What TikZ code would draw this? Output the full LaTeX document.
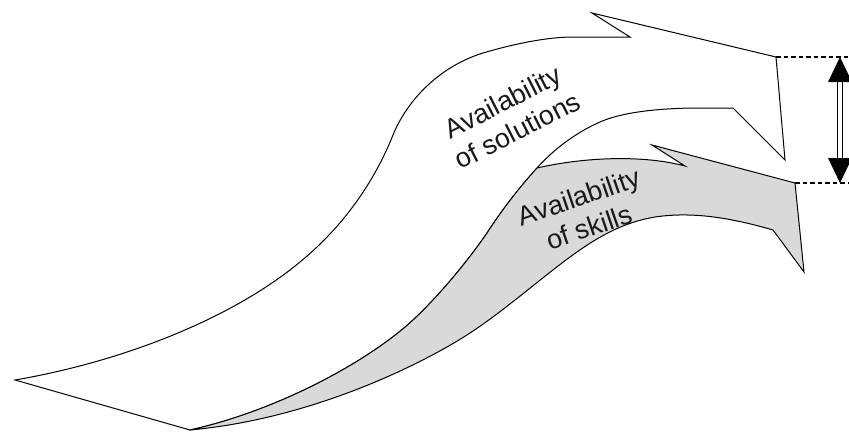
\documentclass[tikz,border=0pt]{standalone}
\usepackage{fontspec}
\setmainfont{Liberation Sans}
\begin{document}
\begin{tikzpicture}[x=1pt,y=-1pt,
  outline/.style={draw=black, line width=1pt, line join=miter},
  guide/.style={draw=black, line width=1.1pt, dash pattern=on 4.5pt off 3pt},
  label/.style={align=center, font=\fontsize{27}{32}\selectfont, text=black!90, inner sep=0pt}]
\useasboundingbox (0,0) rectangle (849,432);
% white arrow: availability of solutions
\path[outline, fill=white]
  (15,380) .. controls (120,362) and (230,320) .. (300,262)
  .. controls (345,225) and (375,180) .. (393,135)
  .. controls (405,105) and (435,68) .. (483,53)
  .. controls (510,45) and (545,37) .. (573,37)
  -- (630,37) -- (592,13) -- (776,57) -- (785,160) -- (733,108) -- (700,108)
  .. controls (655,108) and (620,113) .. (600,122)
  .. controls (575,133) and (553,150) .. (537,168)
  .. controls (518,189) and (502,210) .. (487,233)
  .. controls (470,258) and (440,295) .. (413,320)
  .. controls (370,360) and (280,410) .. (190,430)
  -- cycle;
% grey arrow: availability of skills
\path[outline, fill=black!15]
  (190,430) .. controls (280,410) and (370,360) .. (413,320)
  .. controls (440,295) and (470,258) .. (487,233)
  .. controls (502,210) and (518,189) .. (537,168)
  .. controls (580,158) and (640,154) .. (685,166)
  -- (652,145) -- (795,183) -- (804,272) -- (773,230)
  .. controls (735,219) and (695,211) .. (655,217)
  .. controls (625,222) and (600,235) .. (570,257)
  .. controls (540,279) and (505,310) .. (470,333)
  .. controls (432,358) and (320,418) .. (190,430)
  -- cycle;
% labels
\node[label, rotate=27] (sol) at (510,116) {Availability\\of solutions};
\node[label, rotate=19] (ski) at (584,212) {Availability\\of skills};
% range marker
\coordinate (t1) at (776,57);
\coordinate (t2) at (795,183);
\coordinate (r1) at (849,57);
\coordinate (r2) at (849,183);
\draw[guide] (t1) -- (r1);
\draw[guide] (t2) -- (r2);
\coordinate (atop) at (840,57);
\coordinate (abot) at (840,183);
\coordinate (sl1) at (837.5,80);
\coordinate (sl2) at (837.5,160);
\coordinate (sr1) at (842.5,80);
\coordinate (sr2) at (842.5,160);
\fill[black] (atop) -- (828,82) -- (852,82) -- cycle;
\fill[black] (abot) -- (828,158) -- (852,158) -- cycle;
\draw[line width=1pt] (sl1) -- (sl2);
\draw[line width=1pt] (sr1) -- (sr2);
\end{tikzpicture}
\end{document}
